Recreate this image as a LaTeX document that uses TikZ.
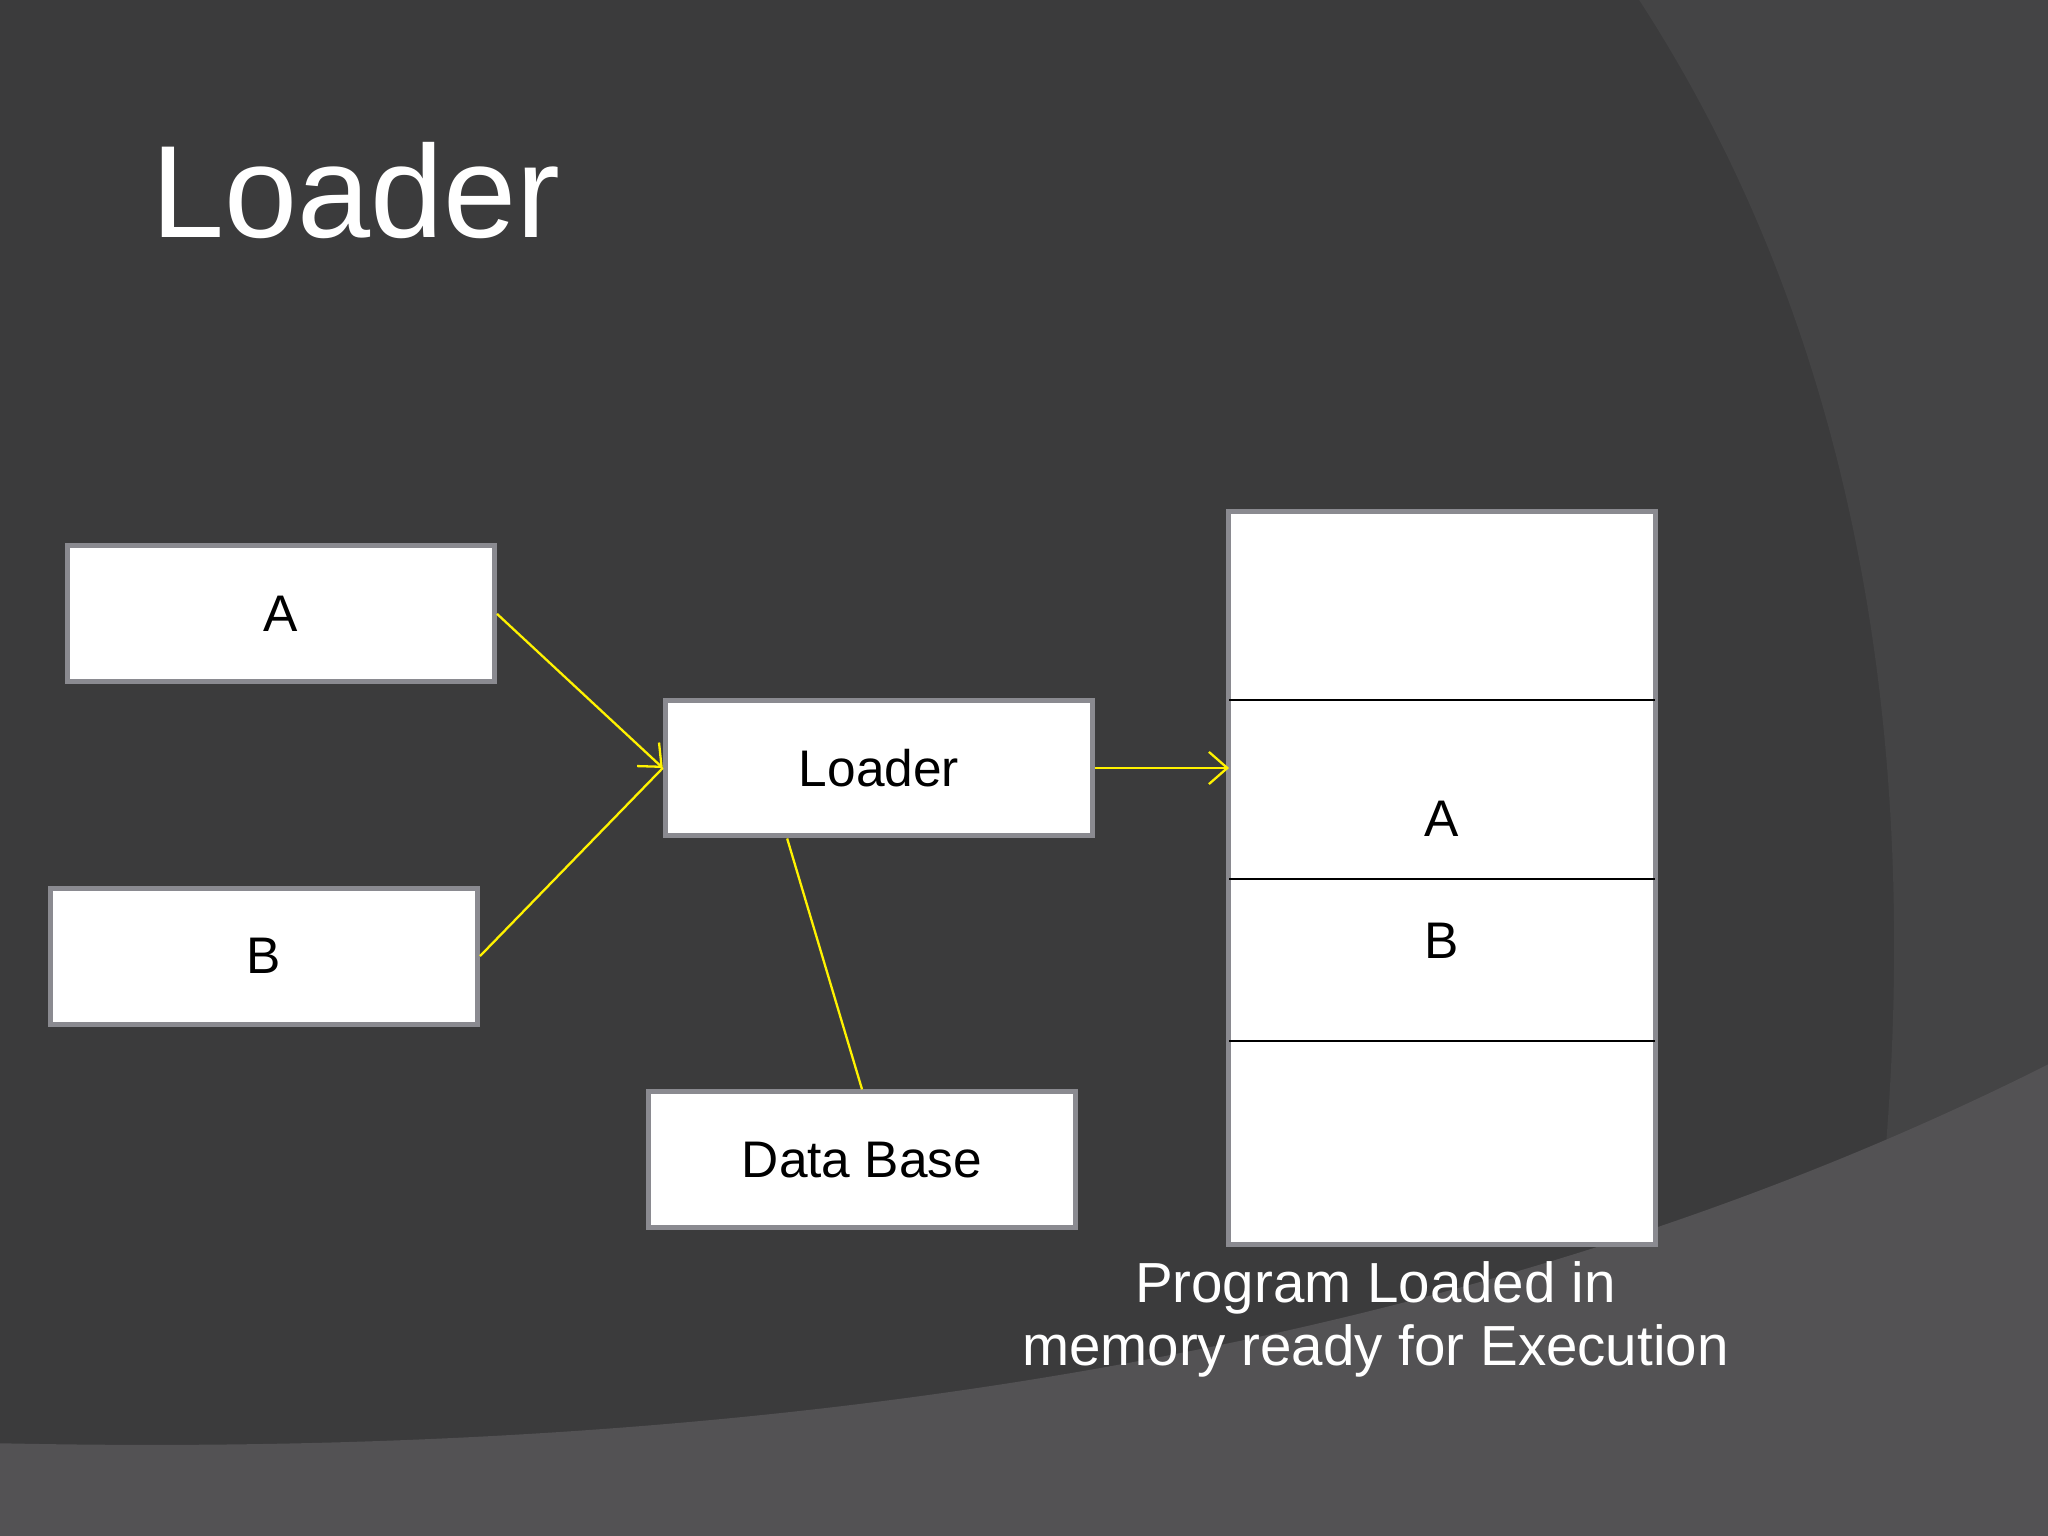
\documentclass[tikz,border=0pt]{standalone}
\usepackage{fontspec}
\setmainfont{Liberation Sans}
\usetikzlibrary{arrows.meta}
\definecolor{bgdark}{HTML}{3B3B3C}
\definecolor{bgmid}{HTML}{444445}
\definecolor{bglight}{HTML}{535254}
\definecolor{boxline}{HTML}{8A8A90}
\tikzset{
  box/.style={draw=boxline, line width=1.1pt, fill=white, minimum width=3.27cm, minimum height=1.04cm, font=\fontsize{11.2}{13}\selectfont},
  link/.style={yellow, line width=0.5pt},
  arr/.style={link, -{Straight Barb[length=4pt,width=7pt]}}
}
\begin{document}
\begin{tikzpicture}[x=0.01cm, y=-0.01cm]

% Background
\fill[bgdark] (0,0) rectangle (1568,1176);
\fill[bgmid] (1255,0) .. controls (1450,300) and (1500,700) .. (1400,1176) -- (1568,1176) -- (1568,0) -- cycle;
\fill[bglight] (0,1105) .. controls (700,1120) and (1200,1000) .. (1568,815) -- (1568,1176) -- (0,1176) -- cycle;
\useasboundingbox (0,0) rectangle (1568,1176);

% Title
\node[white, anchor=base west, font=\fontsize{28.6}{32}\selectfont, inner sep=0] (title) at (115,182) {Loader};

% Boxes
\node[box] (a) at (215,470) {A};
\node[box] (b) at (202,732) {B};
\node[box] (loader) at (673,588) {Loader};
\node[box] (db) at (660,888) {Data Base};

% Memory
\node[draw=boxline, line width=1.1pt, fill=white, minimum width=3.27cm, minimum height=5.61cm] (mem) at (1104,672.5) {};
\draw (941,536) -- (1267,536);
\draw (941,673) -- (1267,673);
\draw (941,797) -- (1267,797);
\node[font=\fontsize{11.2}{13}\selectfont] (ma) at (1104,627) {A};
\node[font=\fontsize{11.2}{13}\selectfont] (mb) at (1104,720) {B};
\coordinate (memin) at (941,588);

% Connectors
\draw[arr] (a.east) -- (loader.west);
\draw[link] (b.east) -- (loader.west);
\draw[arr] (loader.east) -- (memin);
\draw[link] ([xshift=-20]loader.south) -- (db.north);

% Caption
\node[white, align=center, font=\fontsize{12.3}{13.6}\selectfont] (cap) at (1053,1010) {Program Loaded in\\memory ready for Execution};

\end{tikzpicture}
\end{document}
